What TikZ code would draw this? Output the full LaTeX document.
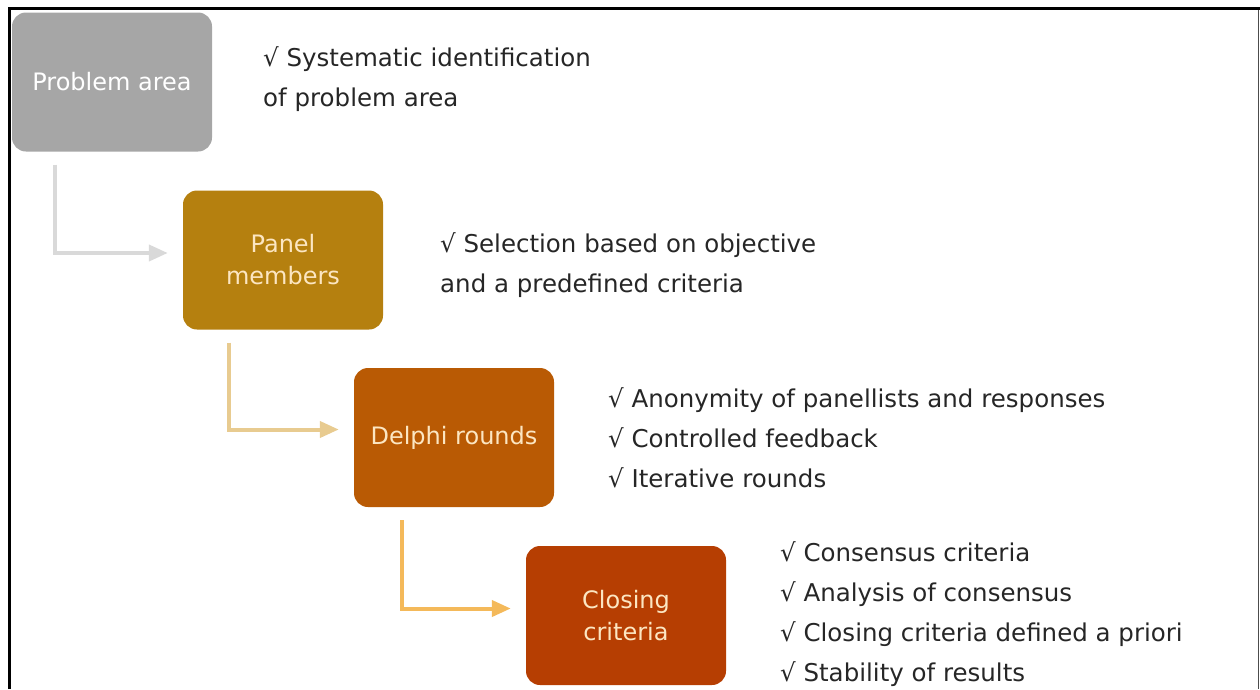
\documentclass[tikz,border=0pt]{standalone}
\usepackage{fontspec}
\setmainfont{DejaVu Sans}
\usetikzlibrary{arrows.meta,positioning,calc}
\definecolor{probgray}{HTML}{A6A6A6}
\definecolor{panelgold}{HTML}{B5800F}
\definecolor{delphiorange}{HTML}{B95A04}
\definecolor{closingred}{HTML}{B63E02}
\definecolor{boxtext}{HTML}{FCE6C2}
\definecolor{notetext}{HTML}{262626}
\definecolor{arrowgray}{HTML}{D9D9D9}
\definecolor{arrowtan}{HTML}{E8CB90}
\definecolor{arroworange}{HTML}{F4B95A}

\begin{document}
\begin{tikzpicture}[x=1pt, y=-1pt,
    box/.style={rectangle, rounded corners=14pt, minimum width=200pt,
                minimum height=139pt, inner sep=0pt, align=center,
                text=boxtext, font=\fontsize{24}{32}\selectfont},
    note/.style={anchor=west, align=left, inner sep=0pt,
                 text=notetext, font=\fontsize{24.5}{40}\selectfont},
    flow/.style={line width=4pt, -{Triangle[length=19pt, width=16pt]},
                 shorten <=13pt, shorten >=15pt}
  ]
  \useasboundingbox (0,0) rectangle (1260,689);

  % Frame
  \draw[line width=3pt] (9.5,689) -- (9.5,8.5) -- (1260,8.5);
  \draw[line width=1.5pt, black!70] (1258.5,10) -- (1258.5,689);

  % Steps
  \node[box, fill=probgray, text=white] (problem) at (112, 82) {Problem area};
  \node[box, fill=panelgold] (panel) at (283, 260) {Panel\\members};
  \node[box, fill=delphiorange] (delphi) at (454, 437.5) {Delphi rounds};
  \node[box, fill=closingred] (closing) at (626, 615.5) {Closing\\criteria};

  % Notes
  \node[note] (problem_note) at (263, 79)
    {√ Systematic identification\\of problem area};
  \node[note] (panel_note) at (440, 265.5)
    {√ Selection based on objective\\and a predefined criteria};
  \node[note] (delphi_note) at (608, 438)
    {√ Anonymity of panellists and responses\\√ Controlled feedback\\√ Iterative rounds};
  \node[note] (closing_note) at (780, 614)
    {√ Consensus criteria\\√ Analysis of consensus\\√ Closing criteria defined a priori\\√ Stability of results};

  % Flow between steps
  \draw[flow, arrowgray] ([xshift=43pt]problem.south west) |- ([yshift=7pt]panel.west);
  \draw[flow, arrowtan] ([xshift=46pt]panel.south west) |- ([yshift=8pt]delphi.west);
  \draw[flow, arroworange] ([xshift=48pt]delphi.south west) |- ([yshift=7pt]closing.west);

\end{tikzpicture}
\end{document}
